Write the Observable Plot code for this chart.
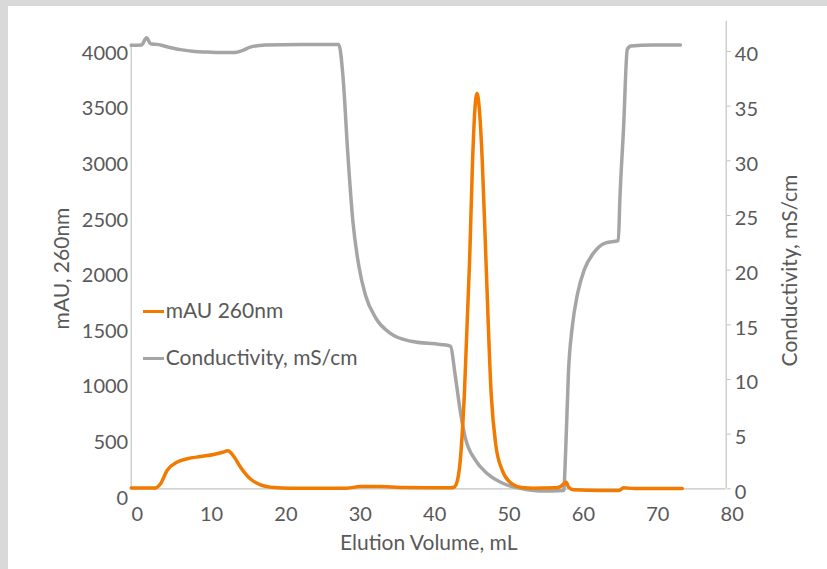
<!DOCTYPE html>
<html><head><meta charset="utf-8">
<script src="https://cdn.jsdelivr.net/npm/d3@7"></script>
<script src="https://cdn.jsdelivr.net/npm/@observablehq/plot@0.6"></script>
<style>
html,body{margin:0;padding:0;background:#d9d9d9;width:827px;height:569px;overflow:hidden;}
#wrap{position:absolute;left:8px;top:6px;width:819px;height:563px;background:#fff;}
#wrap svg{position:absolute;left:0;top:0;}
.leg{position:absolute;font-family:Lato,sans-serif;font-size:21px;color:#595959;line-height:24px;white-space:nowrap;}
.leg span.sw{display:inline-block;width:21px;height:3px;vertical-align:middle;margin-right:2px;position:relative;top:-1px;}
</style></head><body><div id="wrap"></div>
<script>
// mAU 260nm (left axis)
const uvVol = [0, 3.27, 3.94, 4.82, 6.18, 7.53, 9.32, 11.1, 12.2, 13.0, 13.8, 14.7, 16.0, 17.4, 19.2, 21.4, 29.0, 30.8, 33.5, 36.2, 42.9, 43.4, 43.8, 44.2, 44.8, 45.5, 45.9, 46.2, 46.5, 46.8, 47.2, 47.7, 48.4, 49.0, 49.9, 51.2, 52.5, 54.1, 57.05, 57.7, 58.5, 58.8, 59.5, 63.1, 65.6, 66.2, 67.6, 74.1];
const uvVal = [8, 8, 45, 165, 240, 270, 290, 308, 326, 342, 290, 194, 90, 36, 12, 6, 6, 20, 20, 12, 9, 14, 60, 225, 854, 2052, 2951, 3400, 3553, 3420, 2951, 2052, 854, 404, 164, 45, 12, 6, 9, 20, 60, 15, -9, -15, -15, 9, 3, 3];
// Conductivity, mS/cm (right axis)
const condVol = [0, 1.4, 2.06, 2.6, 3.5, 5.0, 6.6, 8.5, 10.2, 12.0, 13.8, 15.0, 16.0, 18.0, 22.8, 27.9, 28.5, 29.1, 29.8, 30.6, 31.5, 32.9, 34.9, 37.6, 41.6, 42.9, 43.6, 44.3, 44.9, 46.3, 47.9, 50.1, 52.3, 55.0, 58.15, 58.4, 58.8, 59.3, 60.0, 60.9, 62.2, 63.8, 65.5, 65.7, 66.2, 66.7, 67.2, 70.0, 73.85];
const condVal = [40.56, 40.6, 41.26, 40.7, 40.65, 40.4, 40.17, 40.0, 39.95, 39.9, 39.9, 40.1, 40.4, 40.6, 40.65, 40.65, 37.5, 30.9, 24.5, 20.4, 17.7, 15.6, 14.2, 13.5, 13.2, 13.05, 10.2, 6.86, 4.72, 2.59, 1.37, 0.46, 0.05, -0.2, -0.15, 3.2, 10.8, 14.8, 17.8, 20.0, 21.6, 22.5, 22.7, 26.4, 33.0, 40.2, 40.5, 40.6, 40.6];

const xTicks = [0, 10, 20, 30, 40, 50, 60, 70, 80];
const leftTicks = [0, 500, 1000, 1500, 2000, 2500, 3000, 3500, 4000];
const rightTicks = [0, 5, 10, 15, 20, 25, 30, 35, 40];

const YMAX = 4203;   // left-axis units at top of plot area
const RMAX = 42.77;  // right-axis units at top of plot area
const F = YMAX / RMAX;

const uv = uvVol.map((v, i) => ({x: v, y: uvVal[i]}));
const cond = condVol.map((v, i) => ({x: v, y: condVal[i] * F}));

const ORANGE = "#f27a00", GREY = "#a5a5a5", AX = "#c4c4c4", TXT = "#595959";
const FONT = "Lato, sans-serif";
const TS = 20;

const chart = Plot.plot({
  width: 819, height: 563,
  marginLeft: 122.7, marginRight: 101.3, marginTop: 14.7, marginBottom: 80.7,
  style: {fontFamily: FONT, fontSize: TS + "px", color: TXT, background: "transparent"},
  x: {domain: [0, 80]},
  y: {domain: [0, YMAX]},
  marks: [
    Plot.ruleY([0], {x1: 0, x2: 80, stroke: AX, strokeWidth: 1.2}),
    Plot.ruleX([0], {y1: 0, y2: 4000, stroke: AX, strokeWidth: 1.2}),
    Plot.ruleX([80], {y1: 0, y2: YMAX, stroke: AX, strokeWidth: 1.2}),
    Plot.axisX({ticks: xTicks, tickSize: 0, tickPadding: 17.5, dx: 6, label: null, tickFormat: d => String(d), fill: TXT, fontSize: TS}),
    Plot.axisY({anchor: "left", ticks: leftTicks, tickSize: 0, tickPadding: 3, dy: 9.5, label: null, tickFormat: d => String(d), fill: TXT, fontSize: TS}),
    Plot.axisY({anchor: "right", ticks: rightTicks.map(t => t * F), tickSize: 4, stroke: AX, tickFormat: () => "", label: null}),
    Plot.axisY({anchor: "right", ticks: rightTicks.map(t => t * F), tickSize: 0, tickPadding: 8.6, dy: 3.5, label: null, tickFormat: d => String(Math.round(d / F)), fill: TXT, fontSize: TS}),
    Plot.line(cond, {x: "x", y: "y", stroke: GREY, strokeWidth: 3.5, curve: "monotone-x"}),
    Plot.line(uv, {x: "x", y: "y", stroke: ORANGE, strokeWidth: 3.5, curve: "monotone-x"}),
    Plot.text(["mAU, 260nm"], {frameAnchor: "left", textAnchor: "middle", dx: -68.7, dy: 13.5, rotate: -90, fill: TXT, fontSize: 21}),
    Plot.text(["Conductivity, mS/cm"], {frameAnchor: "right", textAnchor: "middle", dx: 64.3, dy: 15.5, rotate: -90, fill: TXT, fontSize: 21}),
    Plot.text(["Elution Volume, mL"], {frameAnchor: "bottom", lineAnchor: "middle", dx: 0, dy: 54.7, fill: TXT, fontSize: 21})
  ]
});
const wrap = document.getElementById("wrap");
wrap.appendChild(chart);

const legendItems = [
  {label: "mAU 260nm", color: ORANGE, top: 304},
  {label: "Conductivity, mS/cm", color: GREY, top: 350.7}
];
for (const it of legendItems) {
  const d = document.createElement("div");
  d.className = "leg";
  d.style.left = "134.7px";
  d.style.top = (it.top - 12) + "px";
  d.innerHTML = `<span class="sw" style="background:${it.color}"></span>${it.label}`;
  wrap.appendChild(d);
}
</script></body></html>
